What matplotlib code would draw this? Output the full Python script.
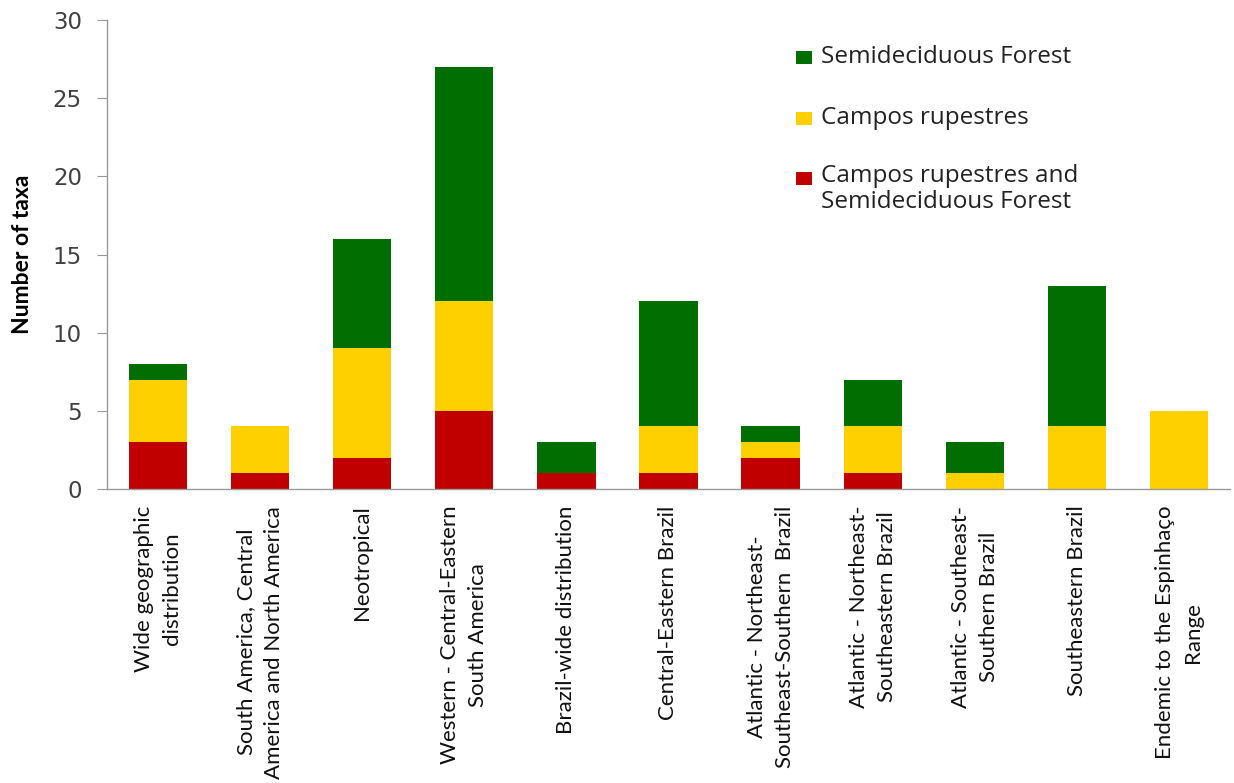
import matplotlib
matplotlib.use("Agg")
import matplotlib.pyplot as plt
from matplotlib.patches import Rectangle
import numpy as np

categories = [
    "Wide geographic\ndistribution",
    "South America, Central\nAmerica and North America",
    "Neotropical",
    "Western - Central-Eastern\nSouth America",
    "Brazil-wide distribution",
    "Central-Eastern Brazil",
    "Atlantic - Northeast-\nSoutheast-Southern  Brazil",
    "Atlantic - Northeast-\nSoutheastern Brazil",
    "Atlantic - Southeast-\nSouthern Brazil",
    "Southeastern Brazil",
    "Endemic to the Espinhaço\nRange",
]
both = [3, 1, 2, 5, 1, 1, 2, 1, 0, 0, 0]
campos = [4, 3, 7, 7, 0, 3, 1, 3, 1, 4, 5]
semidec = [1, 0, 7, 15, 2, 8, 1, 3, 2, 9, 0]
series_labels = ["Semideciduous Forest", "Campos rupestres",
                 "Campos rupestres and\nSemideciduous Forest"]
colors = ["#006E00", "#FFD000", "#C00000"]
yticks = [0, 5, 10, 15, 20, 25, 30]

fig = plt.figure(figsize=(12.34, 7.83), dpi=100)
ax = fig.add_axes([107/1234, 1-489/783, (1230-107)/1234, (489-20)/783])

x = np.arange(len(categories))
w = 0.57
b = np.array(both)
c = np.array(campos)
s = np.array(semidec)
ax.bar(x, b, w, color=colors[2], linewidth=0)
ax.bar(x, c, w, bottom=b, color=colors[1], linewidth=0)
ax.bar(x, s, w, bottom=b + c, color=colors[0], linewidth=0)

ax.set_xlim(-0.5, len(categories) - 0.5)
ax.set_ylim(0, 30)
ax.set_yticks(yticks)
ax.set_yticklabels([str(t) for t in yticks], fontfamily="DejaVu Sans", fontsize=16.5, color="#404040")
ax.tick_params(axis="y", length=7, width=0.8, color="#999999", pad=11)
ax.set_xticks(x)
ax.set_xticklabels(categories, rotation=90, ha="center", va="top", multialignment="center",
                   fontfamily="Lato", fontsize=16, color="#111111", linespacing=1.5)
ax.tick_params(axis="x", length=0, pad=12)
for sp in ["top", "right"]:
    ax.spines[sp].set_visible(False)
for sp in ["left", "bottom"]:
    ax.spines[sp].set_color("#999999")
    ax.spines[sp].set_linewidth(1.0)

ax.set_ylabel("Number of taxa", fontfamily="Lato", fontweight="bold", fontsize=16.5)
ax.yaxis.set_label_coords(-74/1123, 0.5)

# legend drawn manually
legend_rows = [57, 118, 178]
for lab, col, yy in zip(series_labels, colors, legend_rows):
    fig.patches.append(Rectangle((796/1234, 1-(yy+7)/783), 16/1234, 13/783,
                                 transform=fig.transFigure, color=col, linewidth=0))
    if "\n" in lab:
        fig.text(821/1234, 1-(yy-14)/783, lab, fontfamily="Open Sans", fontsize=17.5,
                 color="#222222", va="top", ha="left", linespacing=1.12)
    else:
        fig.text(821/1234, 1-yy/783, lab, fontfamily="Open Sans", fontsize=17.5,
                 color="#222222", va="center", ha="left")

fig.savefig("out.png", dpi=100)
